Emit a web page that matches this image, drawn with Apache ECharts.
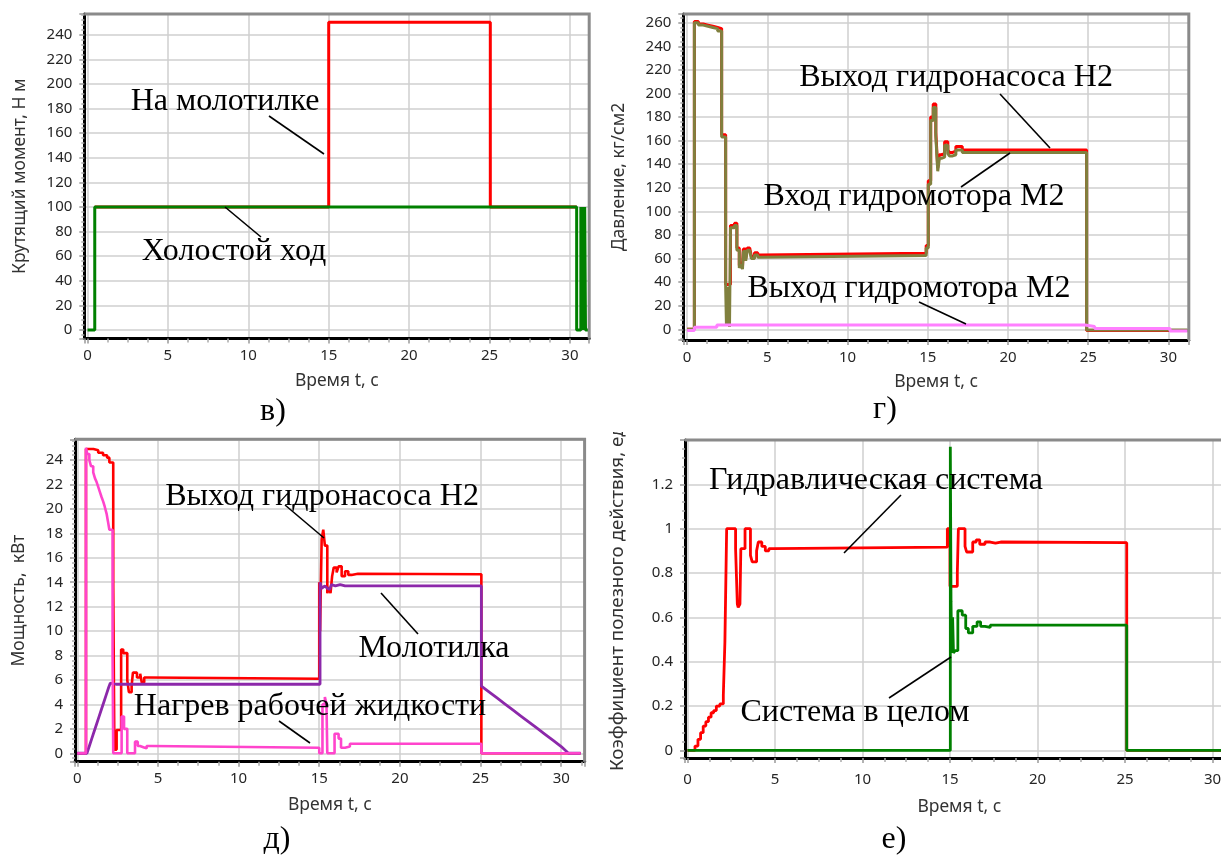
<!DOCTYPE html>
<html><head><meta charset="utf-8">
<script src="https://cdn.jsdelivr.net/npm/echarts@6/dist/echarts.min.js"></script>
<style>html,body{margin:0;padding:0;background:#fff}#c{width:1221px;height:855px}</style>
</head><body><div id="c"></div>
<script>
// ===== DATA (time in s, value) =====
// Panel в — Крутящий момент, Н м (value holds from t until the next point)
const torqueIdle = [[0,0],[0.45,100],[30.42,0],[30.68,100],[30.72,0],[30.76,100],[30.8,0],[30.84,100],[30.88,0],[30.92,100],[30.97,0],[31.2,0]];
const torqueThresher = [[0.45,100],[15,250],[25.05,100],[30.42,100]];
// Panel г — Давление, кг/см2 (value holds from t until the next point)
const pressPumpOut = [[0,0],[0.45,261],[0.7,259],[1.0,258],[1.3,257],[1.6,256],[1.9,255],[2.15,165],[2.4,38],[2.7,88],[2.95,90],[3.1,69],[3.25,54],[3.35,57],[3.45,53],[3.5,68],[3.65,60],[3.75,69],[3.9,68],[4.0,62],[4.2,65],[4.4,63],[4.6,64.5],[14.9,71],[15.03,126],[15.18,180],[15.34,191],[15.5,167],[15.62,137],[15.72,148],[15.85,149],[16.05,159],[16.25,152],[16.35,150],[16.55,151],[16.75,155],[17.15,152],[24.9,-1],[31.2,-1]];
const pressMotorIn = [[0,0],[0.45,260],[0.7,258],[1.0,257],[1.3,256],[1.6,255],[1.9,253],[2.15,163],[2.4,36],[2.45,3],[2.5,36],[2.55,3],[2.6,30],[2.64,2],[2.7,86],[2.95,88],[3.1,67],[3.25,52],[3.35,55],[3.45,51],[3.5,66],[3.65,58],[3.75,67],[3.9,66],[4.0,60],[4.2,63],[4.4,61],[4.6,62.5],[14.9,69],[15.03,123],[15.18,177],[15.34,188],[15.5,164],[15.62,134],[15.72,145],[15.85,146],[16.05,156],[16.25,149],[16.35,147],[16.55,148],[16.75,152],[17.15,150],[24.9,-0.6],[31.2,-0.6]];
const pressMotorOut = [[0,-1],[0.45,1.7],[1.85,3.6],[24.8,2.3],[25.4,0.6],[30.1,-1.4],[31.2,-1.4]];
// Panel д — Мощность, кВт
// (pump output and heating: value holds from t until the next point)
const powerPumpOut = [[0,0],[0.54,24.9],[1.0,24.8],[1.3,24.6],[1.6,24.4],[1.85,24.2],[1.99,23.8],[2.23,13.9],[2.3,0.3],[2.44,1.9],[2.72,8.5],[2.85,8.2],[3.1,6.0],[3.2,5.0],[3.37,5.5],[3.45,6.6],[3.7,6.2],[3.9,6.5],[4.0,5.8],[4.15,6.2],[4.4,6.1],[15.0,14.0],[15.05,10.0],[15.15,17.5],[15.25,18.3],[15.35,17.0],[15.5,13.1],[15.62,13.6],[15.7,13.1],[15.8,14.5],[15.9,15.2],[16.08,14.8],[16.2,15.3],[16.39,14.5],[16.6,14.9],[16.8,14.6],[17.0,14.7],[17.4,14.65],[25.05,0],[31.2,0]];
const powerHeat = [[0,0],[0.54,25.0],[0.62,24.5],[0.75,24.0],[0.85,23.5],[0.99,23.0],[1.1,22.5],[1.2,22.2],[1.3,21.8],[1.4,21.4],[1.5,21.0],[1.61,20.6],[1.7,20.2],[1.82,19.6],[1.9,19.0],[1.99,18.3],[2.19,8.0],[2.23,0],[2.75,3.0],[2.9,2.0],[3.1,0],[3.58,0.95],[3.75,0.6],[3.89,0.5],[4.1,0.4],[4.3,0.6],[4.6,0.45],[15.0,0],[15.2,4.0],[15.35,4.6],[15.45,4.0],[15.5,0],[15.95,1.6],[16.2,1.2],[16.35,0.45],[16.6,0.55],[16.9,0.78],[25.05,0],[31.2,0]];
// (thresher: polyline points)
const powerThresher = [[0,0],[0.6,0],[0.75,0.6],[0.9,1.2],[1.05,1.8],[1.2,2.4],[1.35,3.0],[1.5,3.6],[1.65,4.2],[1.8,4.8],[1.95,5.4],[2.05,5.75],[2.4,5.65],[15.05,5.65],[15.05,14.0],[15.15,13.5],[15.35,13.7],[15.5,13.5],[15.65,13.4],[15.75,13.8],[16.0,13.7],[16.3,13.8],[16.6,13.7],[25.05,13.7],[25.05,5.5],[25.5,5.05],[26.0,4.55],[26.5,4.05],[27.0,3.55],[27.5,3.05],[28.0,2.55],[28.5,2.05],[29.0,1.55],[29.5,1.05],[30.0,0.55],[30.45,0],[31.2,0]];
// Panel е — Коэффициент полезного действия (value holds from t until the next point)
const effHydraulic = [[0,0],[0.43,0.02],[0.6,0.05],[0.75,0.08],[0.9,0.11],[1.05,0.13],[1.2,0.15],[1.35,0.17],[1.5,0.18],[1.65,0.2],[1.85,0.21],[2.05,0.25],[2.14,0.49],[2.24,1.0],[2.75,0.91],[2.85,0.66],[2.9,0.645],[3.0,0.66],[3.05,0.91],[3.29,1.0],[3.6,0.88],[3.7,0.85],[3.95,0.9],[4.05,0.94],[4.25,0.92],[4.45,0.9],[4.65,0.91],[4.9,0.917],[14.85,1.0],[15.0,0.74],[15.42,0.8],[15.48,1.0],[15.86,0.92],[15.95,0.895],[16.3,0.94],[16.5,0.95],[16.7,0.93],[17.0,0.94],[17.3,0.935],[17.6,0.94],[17.9,0.937],[25.1,0],[31.2,0]];
const effSystem = [[0,0],[15.02,1.37],[15.06,0.67],[15.1,0.44],[15.15,0.6],[15.2,0.44],[15.3,0.45],[15.45,0.63],[15.7,0.61],[15.9,0.55],[16.05,0.53],[16.3,0.56],[16.55,0.58],[16.75,0.56],[17.0,0.555],[17.3,0.565],[25.1,0],[31.2,0]];
// Tick steps
const timeTickStep = 5;
const torqueTickStep = 20;
const pressTickStep = 20;
const powerTickStep = 2;
const effTickStep = 0.2;

// ===== LAYOUT =====
const grids = [
  {left:84.3, top:14, width:504.9, height:324.6},
  {left:683.3, top:14, width:505.5, height:326},
  {left:75, top:439.3, width:509.6, height:322.4},
  {left:685, top:440, width:548.5, height:318}
];
const TICK_FONT = 'Noto Sans';
const TITLE_SIZE = 17.5;
function fmt(iv){
  return function(v){
    const k = Math.round(v/iv);
    if (Math.abs(k*iv - v) > iv*1e-6) return '';
    return String(+(k*iv).toFixed(6));
  };
}
function xAx(g, min, max, nameGap, margin){
  return {type:'value', gridIndex:g, min:min, max:max, minInterval:timeTickStep, maxInterval:timeTickStep,
    name:'Время t, c', nameLocation:'middle', nameGap:nameGap,
    nameTextStyle:{fontFamily:TICK_FONT, fontSize:TITLE_SIZE, color:'#333'},
    axisLine:{show:true, onZero:false, lineStyle:{color:'#000', width:3}},
    axisTick:{show:true, length:5, lineStyle:{color:'#999', width:1.5}},
    minorTick:{show:true, splitNumber:4, length:4, lineStyle:{color:'#aaa', width:1.5}},
    splitLine:{show:true, lineStyle:{color:'#cfcfcf', width:1.5}},
    axisLabel:{formatter:fmt(timeTickStep), fontFamily:TICK_FONT, fontSize:15, color:'#262626', margin:margin, showMinLabel:true, showMaxLabel:true}
  };
}
function yAx(g, min, max, iv, name, nameGap, showMax){
  return {type:'value', gridIndex:g, min:min, max:max, minInterval:iv, maxInterval:iv,
    name:name, nameLocation:'middle', nameGap:nameGap,
    nameTextStyle:{fontFamily:TICK_FONT, fontSize:TITLE_SIZE, color:'#333'},
    axisLine:{show:true, onZero:false, lineStyle:{color:'#000', width:3}},
    axisTick:{show:true, length:5, lineStyle:{color:'#999', width:1.5}},
    minorTick:{show:true, splitNumber:5, length:3, lineStyle:{color:'#aaa', width:1.5}},
    splitLine:{show:true, lineStyle:{color:'#cfcfcf', width:1.5}},
    axisLabel:{formatter:fmt(iv), fontFamily:TICK_FONT, fontSize:15, color:'#262626', margin:12, showMaxLabel:(showMax !== false)}
  };
}
function ser(g, data, color, width, step){
  return {type:'line', xAxisIndex:g, yAxisIndex:g, data:data, step:(step === false ? false : 'end'), showSymbol:false, symbol:'none',
    lineStyle:{color:color, width:width}, itemStyle:{color:color}, animation:false, silent:true};
}
const SERIF = 'Liberation Serif';
function label(text, x, y){
  return {type:'text', x:x, y:y, z:120, style:{text:text, fill:'#000', font:'32px "' + SERIF + '"', textAlign:'center', textVerticalAlign:'middle'}};
}
function leader(x1,y1,x2,y2){
  return {type:'line', z:120, shape:{x1:x1,y1:y1,x2:x2,y2:y2}, style:{stroke:'#000', lineWidth:1.6}};
}
function frame(g){
  const b = grids[g];
  return {type:'polyline', z:110, shape:{points:[[b.left, b.top], [b.left+b.width, b.top], [b.left+b.width, b.top+b.height]]}, style:{stroke:'#8a8a8a', lineWidth:3, fill:null}};
}

const chart = echarts.init(document.getElementById('c'), null, {renderer:'canvas'});
chart.setOption({
  animation:false,
  backgroundColor:'#ffffff',
  grid: grids.map(b => Object.assign({containLabel:false, outerBoundsMode:'none'}, b)),
  xAxis:[ xAx(0,-0.2,31.2,33,10), xAx(1,-0.24,31.27,33,10), xAx(2,-0.14,31.45,34,10), xAx(3,-0.14,31.2,40,14) ],
  yAxis:[
    yAx(0,-7,256.8,torqueTickStep,'Крутящий момент, Н м',55),
    yAx(1,-9.1,267.4,pressTickStep,'Давление, кг/см2',55),
    yAx(2,-0.69,25.7,powerTickStep,'Мощность,  кВт',47),
    yAx(3,-0.034,1.4,effTickStep,'',59,false)
  ],
  series:[
    ser(0, torqueThresher, '#ff0000', 3),
    ser(0, torqueIdle, '#008000', 3),
    ser(1, pressPumpOut, '#ff0000', 3),
    ser(1, pressMotorIn, '#80803e', 3),
    ser(1, pressMotorOut, '#ff80ff', 3),
    ser(2, powerPumpOut, '#ff0000', 2.6),
    ser(2, powerThresher, '#8c28aa', 2.8, false),
    ser(2, powerHeat, '#ff44cc', 2.6),
    ser(3, effHydraulic, '#ff0000', 2.8),
    ser(3, effSystem, '#008000', 2.8)
  ],
  graphic:[
    frame(0), frame(1), frame(2), frame(3),
    // y title of panel е (cut at the top like the source picture)
    {type:'text', x:618, y:771, rotation:Math.PI/2, z:105, style:{text:'Коэффициент полезного действия, ед.', fill:'#333', font:'18.8px "Noto Sans"', textAlign:'left', textVerticalAlign:'middle'}},
    {type:'rect', z:106, shape:{x:600, y:390, width:36, height:42}, style:{fill:'#fff'}},
    // panel в
    label('На молотилке', 225, 102), leader(269,116,324,154),
    label('Холостой ход', 234, 252), leader(225,207,261,237),
    label('в)', 273, 412),
    // panel г
    label('Выход гидронасоса H2', 956, 78), leader(1000,94,1050,148),
    label('Вход гидромотора M2', 914, 197), leader(961,187,1010,153),
    label('Выход гидромотора M2', 909, 289), leader(919,302,966,324),
    label('г)', 885, 410),
    // panel д
    label('Выход гидронасоса H2', 322, 497), leader(285,505,324,538),
    label('Молотилка', 434, 649), leader(381,593,418,634),
    label('Нагрев рабочей жидкости', 310, 707), leader(279,721,310,743),
    label('д)', 277, 840),
    // panel е
    label('Гидравлическая система', 876, 481), leader(901,495,844,553),
    label('Система в целом', 855, 713), leader(889,698,951,657),
    label('е)', 894, 840)
  ]
});
</script></body></html>
